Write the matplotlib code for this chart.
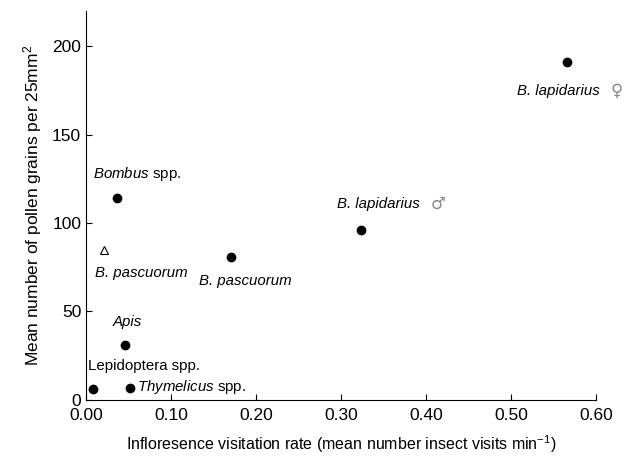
import matplotlib.pyplot as plt

plt.rcParams['font.family'] = ['Liberation Sans', 'DejaVu Sans']
plt.rcParams['mathtext.fontset'] = 'custom'
plt.rcParams['mathtext.rm'] = 'Liberation Sans'
plt.rcParams['mathtext.it'] = 'Liberation Sans:italic'

# visitation rate vs pollen grains (filled circles)
names = ['Lepidoptera spp.', 'Thymelicus spp.', 'Apis', 'Bombus spp.',
         'B. pascuorum', 'B. lapidarius male', 'B. lapidarius female']
visit_rate = [0.008, 0.052, 0.046, 0.036, 0.170, 0.324, 0.566]
pollen = [6, 7, 31, 114, 81, 96, 191]

# open triangle point
tri_rate = [0.021]
tri_pollen = [85]

fig = plt.figure(figsize=(6.28, 4.57), dpi=100)
ax = fig.add_axes([0.137, 0.125, 0.812, 0.851])

ax.plot(visit_rate, pollen, 'o', color='black', markersize=6)
ax.plot(tri_rate, tri_pollen, '^', color='black', markerfacecolor='white',
        markersize=6, markeredgewidth=0.8)

# point labels
fs = 10.8
ax.text(0.008, 128, r'$\it{Bombus}$ spp.', fontsize=fs, va='center')
ax.text(0.011, 72, 'B. pascuorum', fontsize=fs, style='italic', va='center')
ax.text(0.133, 67, 'B. pascuorum', fontsize=fs, style='italic', va='center')
ax.text(0.031, 44, 'Apis', fontsize=fs, style='italic', va='center')
ax.text(0.002, 19, 'Lepidoptera spp.', fontsize=fs, va='center')
ax.text(0.060, 7.3, r'$\it{Thymelicus}$ spp.', fontsize=fs, va='center')
ax.text(0.295, 111, 'B. lapidarius', fontsize=fs, style='italic', va='center')
ax.text(0.405, 111, '\u2642', fontsize=12, va='center', color='#8a8a8a',
        family=['DejaVu Sans'])
ax.text(0.507, 175, 'B. lapidarius', fontsize=fs, style='italic', va='center')
ax.text(0.617, 175, '\u2640', fontsize=12, va='center', color='#8a8a8a',
        family=['DejaVu Sans'], clip_on=False)

ax.set_xlim(0, 0.6)
ax.set_ylim(0, 220)
ax.set_xticks([0, 0.1, 0.2, 0.3, 0.4, 0.5, 0.6])
ax.set_xticklabels(['0.00', '0.10', '0.20', '0.30', '0.40', '0.50', '0.60'])
ax.set_yticks([0, 50, 100, 150, 200])
ax.tick_params(direction='in', labelsize=12.5, length=4)
ax.tick_params(axis='x', pad=6)
ax.spines['top'].set_visible(False)
ax.spines['right'].set_visible(False)

ax.set_xlabel('Infloresence visitation rate (mean number insect visits min$^{-1}$)',
              fontsize=11.5, labelpad=7)
ax.set_ylabel('Mean number of pollen grains per 25mm$^2$', fontsize=12.5, labelpad=6)

fig.savefig('out.png', dpi=100)
